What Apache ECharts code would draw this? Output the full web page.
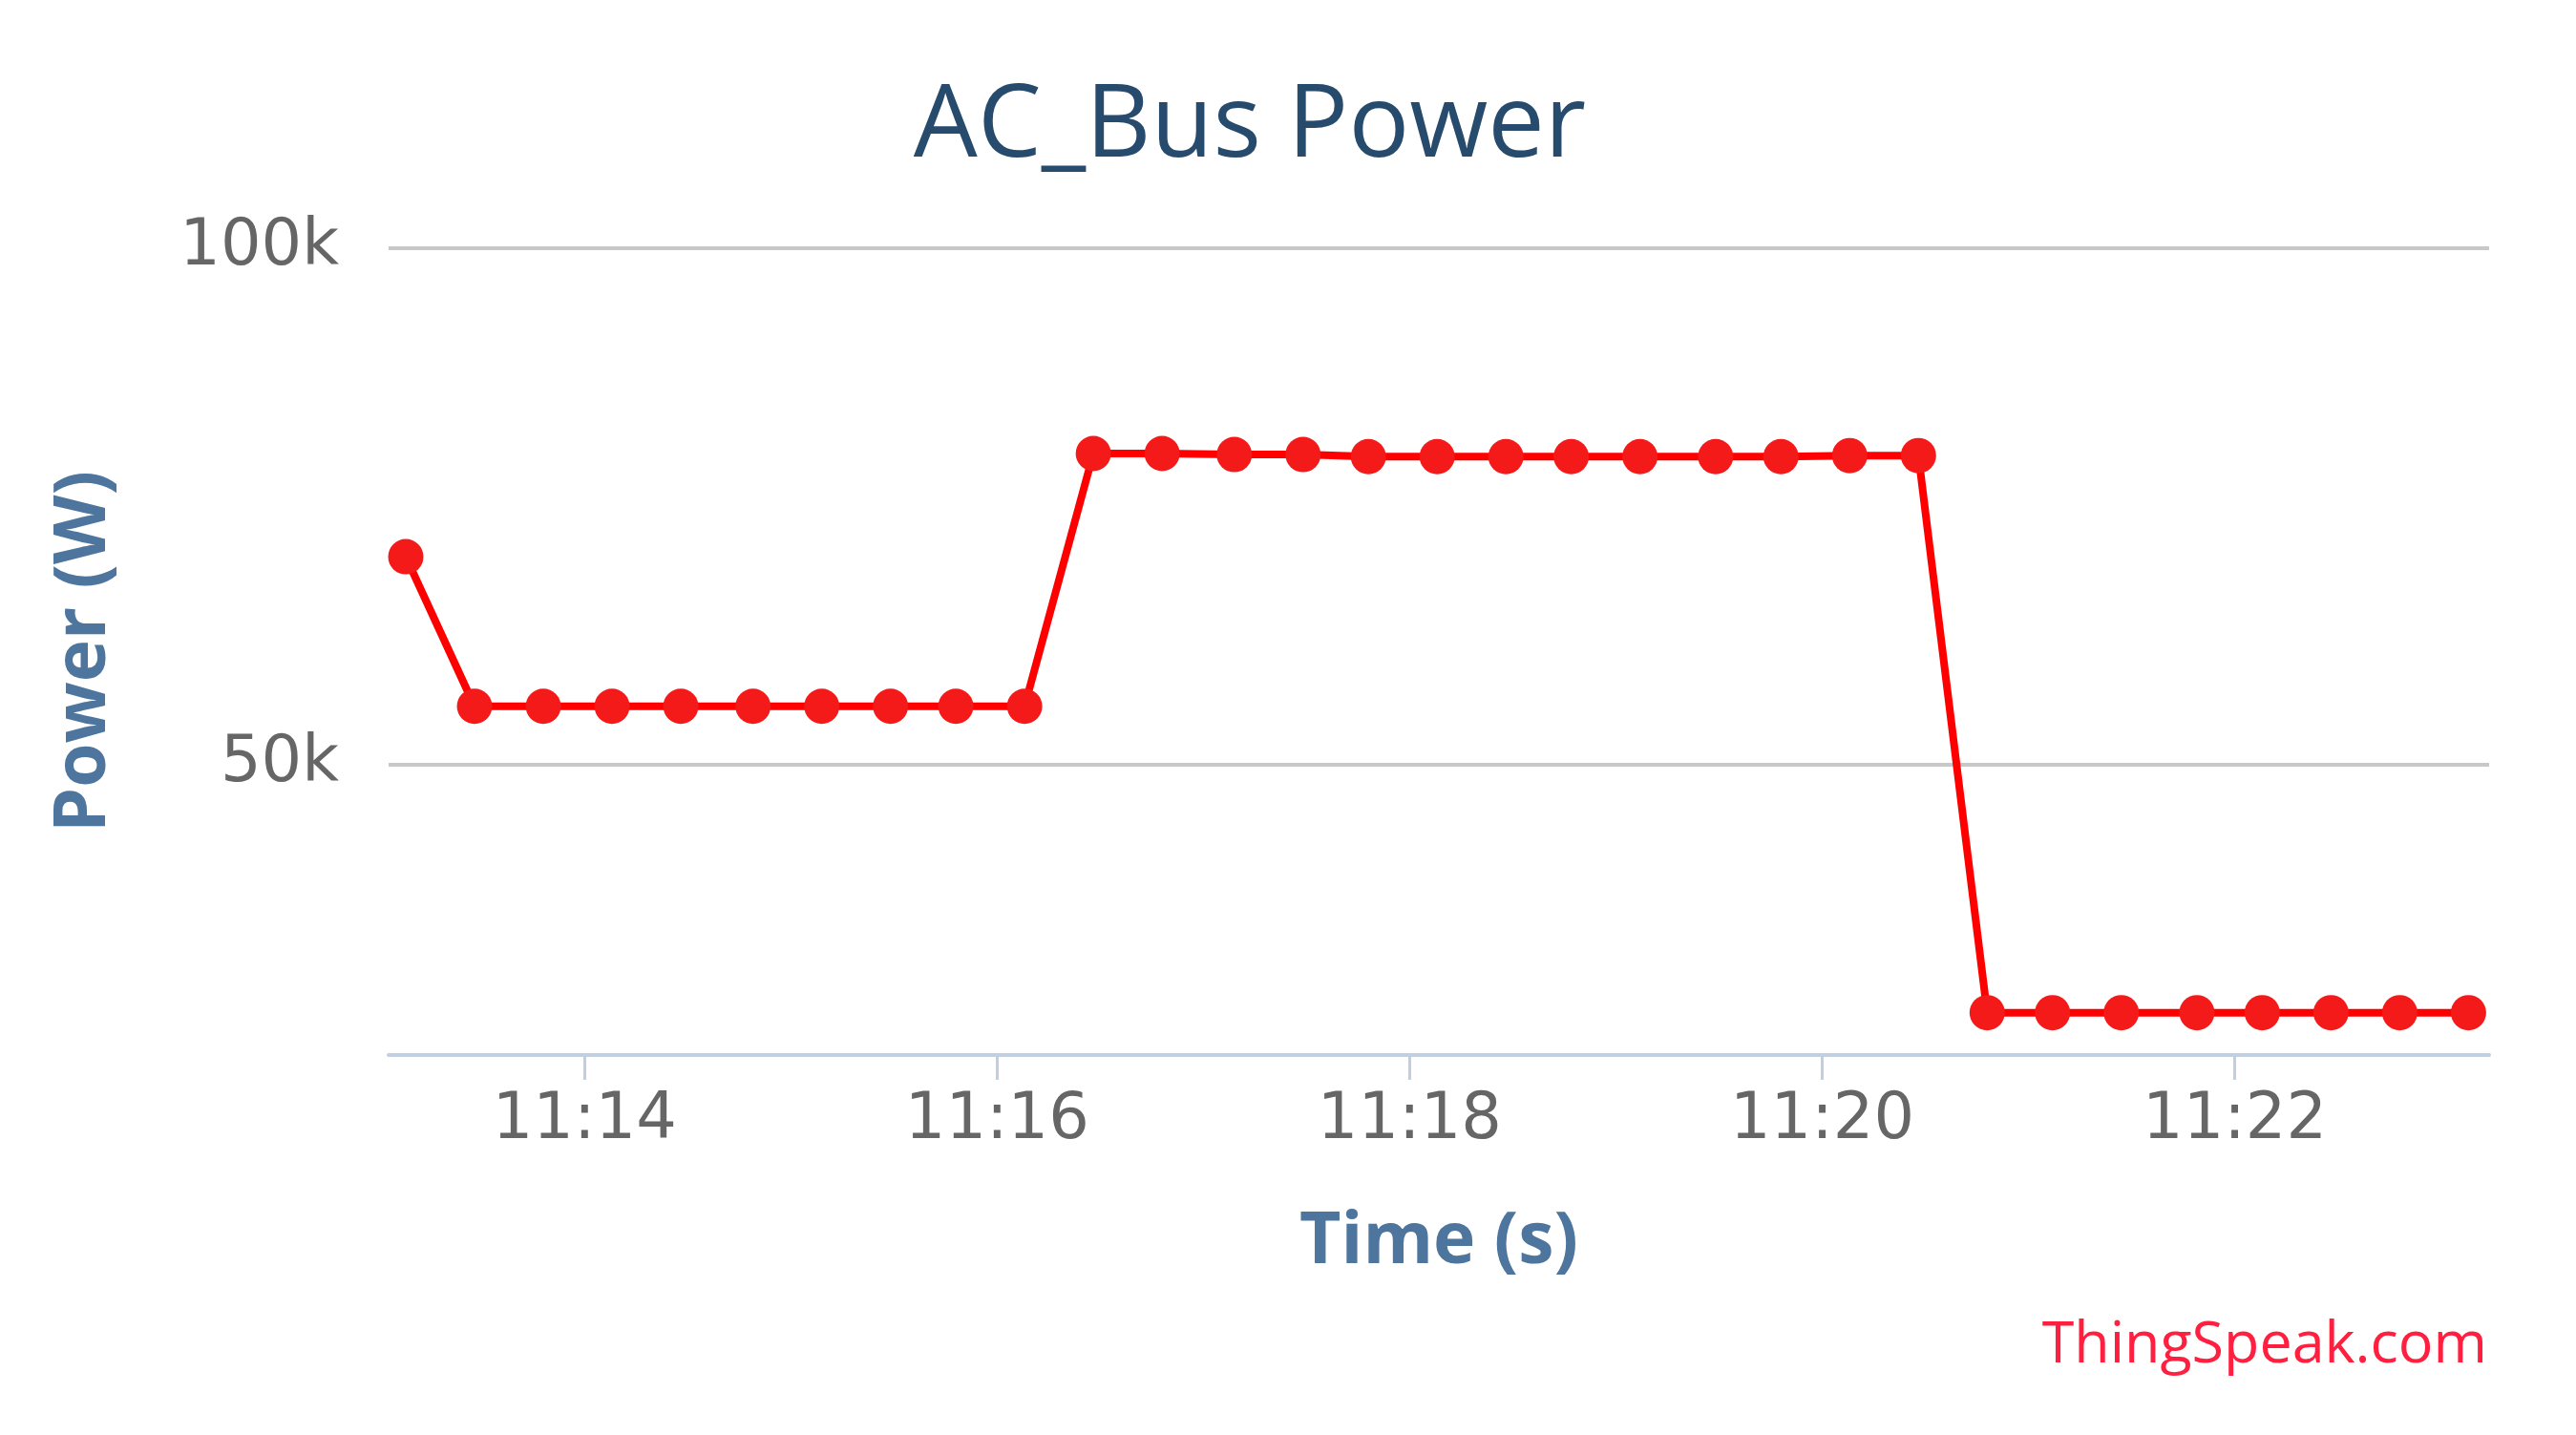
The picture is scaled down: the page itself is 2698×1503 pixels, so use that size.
<!DOCTYPE html>
<html>
<head>
<meta charset="utf-8">
<title>AC_Bus Power</title>
<script src="https://cdn.jsdelivr.net/npm/echarts@6/dist/echarts.min.js"></script>
<style>
  html, body { margin: 0; padding: 0; background: #fff; }
  #main { width: 2698px; height: 1503px; }
</style>
</head>
<body>
<div id="main"></div>
<script>
  // sample times (hh:mm:ss) and power readings in W
  var times = [
    '11:13:08', '11:13:28', '11:13:48', '11:14:08', '11:14:28', '11:14:49', '11:15:09', '11:15:29',
    '11:15:48', '11:16:08', '11:16:28', '11:16:48', '11:17:09', '11:17:29', '11:17:48', '11:18:08',
    '11:18:28', '11:18:47', '11:19:07', '11:19:29', '11:19:48', '11:20:08', '11:20:28', '11:20:48',
    '11:21:07', '11:21:27', '11:21:49', '11:22:08', '11:22:28', '11:22:48', '11:23:08'
  ];
  var power = [
    70100, 55600, 55600, 55600, 55600, 55600, 55600, 55600,
    55600, 55600, 80100, 80100, 80000, 80000, 79800, 79800,
    79800, 79800, 79800, 79800, 79800, 79900, 79900, 25900,
    25900, 25900, 25900, 25900, 25900, 25900, 25900
  ];
  var xTicks = ['11:14', '11:16', '11:18', '11:20', '11:22'];
  var yTicks = [50000, 100000];
  var xRange = ['11:13:03', '11:23:14'];
  var yRange = [21800, 100000];

  // seconds since midnight
  function toSec(s) {
    var p = s.split(':');
    return (+p[0]) * 3600 + (+p[1]) * 60 + (p[2] ? +p[2] : 0);
  }
  function pad(n) { return n < 10 ? '0' + n : '' + n; }

  var seriesData = times.map(function (t, i) { return [toSec(t), power[i]]; });

  var font = '"Open Sans", "Noto Sans", sans-serif';
  var labelFont = '"DejaVu Sans", "Open Sans", sans-serif';
  var myChart = echarts.init(document.getElementById('main'));

  var option = {
    backgroundColor: '#fff',
    animation: false,
    title: {
      text: 'AC_Bus Power',
      left: 1304,
      top: 76,
      textAlign: 'center',
      textStyle: {
        color: '#274b6d',
        fontFamily: font,
        fontWeight: 'normal',
        fontSize: 106
      }
    },
    grid: {
      left: 407,
      right: 91,
      top: 260,
      bottom: 398
    },
    xAxis: {
      type: 'value',
      min: toSec(xRange[0]),
      max: toSec(xRange[1]),
      name: 'Time (s)',
      nameLocation: 'middle',
      nameGap: 159,
      nameTextStyle: {
        color: '#4d759e',
        fontFamily: font,
        fontWeight: 'bold',
        fontSize: 75
      },
      axisLine: { show: true, lineStyle: { color: '#c0d0e0', width: 4 } },
      axisTick: {
        show: true,
        length: 26,
        lineStyle: { color: '#c0d0e0', width: 3 },
        customValues: xTicks.map(toSec)
      },
      axisLabel: {
        customValues: xTicks.map(toSec),
        margin: 36,
        color: '#666666',
        fontFamily: labelFont,
        fontSize: 67,
        formatter: function (v) {
          return pad(Math.floor(v / 3600)) + ':' + pad(Math.floor(v % 3600 / 60));
        }
      },
      splitLine: { show: false }
    },
    yAxis: {
      type: 'value',
      min: yRange[0],
      max: yRange[1],
      name: 'Power (W)',
      nameLocation: 'middle',
      nameRotate: 90,
      nameGap: 281,
      nameTextStyle: {
        color: '#4d759e',
        fontFamily: font,
        fontWeight: 'bold',
        fontSize: 75
      },
      axisLine: { show: false },
      axisTick: { show: false, customValues: yTicks },
      axisLabel: {
        customValues: yTicks,
        margin: 52,
        padding: [14, 0, 0, 0],
        color: '#666666',
        fontFamily: labelFont,
        fontSize: 67,
        formatter: function (v) { return (v / 1000) + 'k'; }
      },
      splitLine: { show: true, lineStyle: { color: '#c8c8c8', width: 4 } }
    },
    graphic: [{
      type: 'text',
      right: 93,
      top: 1379,
      style: {
        text: 'ThingSpeak.com',
        fill: '#ff2040',
        font: '61px "Open Sans", "Noto Sans", sans-serif'
      }
    }],
    series: [{
      name: 'AC_Bus Power',
      type: 'line',
      data: seriesData,
      symbol: 'circle',
      symbolSize: 37,
      showAllSymbol: true,
      lineStyle: { color: '#ff0000', width: 8 },
      itemStyle: { color: '#f41a1a' }
    }]
  };
  myChart.setOption(option);
</script>
</body>
</html>
